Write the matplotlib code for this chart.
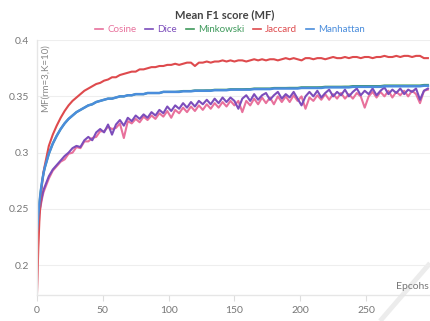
import matplotlib
matplotlib.use("Agg")
import matplotlib.pyplot as plt
from matplotlib.lines import Line2D

epochs = [0, 1, 2, 3, 4, 5] + list(range(6, 300, 3))

cosine = [
    0.176, 0.232, 0.246, 0.254, 0.260, 0.265,
    0.268, 0.277, 0.284, 0.288, 0.292, 0.294, 0.299, 0.300, 0.305, 0.304,
    0.310, 0.310, 0.313, 0.314, 0.319, 0.319, 0.323, 0.321,
    0.322, 0.326, 0.313, 0.328, 0.326, 0.330, 0.327, 0.332, 0.329, 0.333,
    0.330, 0.335, 0.332, 0.337, 0.331, 0.338, 0.335, 0.340, 0.336, 0.341,
    0.337, 0.342, 0.338, 0.343, 0.339, 0.344, 0.340, 0.345, 0.341, 0.346,
    0.342, 0.346, 0.336, 0.346, 0.342, 0.348, 0.343, 0.349, 0.344, 0.349,
    0.343, 0.350, 0.345, 0.350, 0.345, 0.351, 0.346, 0.350, 0.339, 0.349,
    0.346, 0.351, 0.347, 0.352, 0.347, 0.352, 0.348, 0.353, 0.348, 0.352,
    0.348, 0.353, 0.350, 0.340, 0.350, 0.354, 0.349, 0.354, 0.350, 0.355,
    0.349, 0.354, 0.351, 0.355, 0.350, 0.355, 0.352, 0.344, 0.355, 0.356,
]

dice = [
    0.230, 0.240, 0.249, 0.256, 0.262, 0.267,
    0.270, 0.279, 0.285, 0.289, 0.293, 0.297, 0.300, 0.304, 0.306, 0.305,
    0.311, 0.314, 0.311, 0.318, 0.321, 0.318, 0.325, 0.316,
    0.325, 0.329, 0.324, 0.331, 0.328, 0.333, 0.330, 0.334, 0.331, 0.336,
    0.333, 0.338, 0.335, 0.341, 0.337, 0.342, 0.339, 0.344, 0.340, 0.345,
    0.341, 0.346, 0.343, 0.347, 0.343, 0.348, 0.344, 0.349, 0.345, 0.349,
    0.346, 0.339, 0.348, 0.351, 0.346, 0.352, 0.347, 0.351, 0.353, 0.347,
    0.351, 0.354, 0.348, 0.352, 0.349, 0.354, 0.348, 0.342, 0.350, 0.354,
    0.350, 0.355, 0.349, 0.353, 0.356, 0.350, 0.354, 0.351, 0.356, 0.350,
    0.354, 0.357, 0.351, 0.355, 0.352, 0.357, 0.351, 0.355, 0.358, 0.352,
    0.356, 0.353, 0.357, 0.352, 0.356, 0.354, 0.357, 0.347, 0.355, 0.357,
]

minkowski = [
    0.231, 0.245, 0.257, 0.267, 0.275, 0.282,
    0.287, 0.299, 0.308, 0.315, 0.321, 0.326, 0.330, 0.333, 0.336, 0.338,
    0.340, 0.342, 0.343, 0.345, 0.346, 0.347, 0.348, 0.348, 0.349, 0.350,
    0.350, 0.351, 0.351, 0.352, 0.352, 0.352, 0.353, 0.353, 0.353, 0.353,
    0.354, 0.354, 0.354, 0.354, 0.3543, 0.3548, 0.3548, 0.3548, 0.3553, 0.3553,
    0.3553, 0.3554, 0.3554, 0.3559, 0.3559, 0.3559, 0.3559, 0.3564, 0.3564, 0.3564,
    0.3564, 0.3565, 0.3565, 0.3570, 0.3570, 0.3570, 0.3570, 0.3570, 0.3575, 0.3575,
    0.3575, 0.3575, 0.3576, 0.3576, 0.3576, 0.3581, 0.3581, 0.3581, 0.3581, 0.3581,
    0.3582, 0.3586, 0.3586, 0.3586, 0.3586, 0.3586, 0.3587, 0.3587, 0.3592, 0.3592,
    0.3592, 0.3592, 0.3592, 0.3592, 0.3592, 0.3592, 0.3597, 0.3597, 0.3597, 0.3597,
    0.3597, 0.3597, 0.3597, 0.3597, 0.3597, 0.3597, 0.3602, 0.3602,
]

jaccard = [
    0.175, 0.215, 0.245, 0.262, 0.274, 0.283,
    0.289, 0.306, 0.316, 0.324, 0.331, 0.337, 0.342, 0.346, 0.349, 0.352,
    0.355, 0.357, 0.359, 0.361, 0.362, 0.364, 0.365, 0.367, 0.367, 0.369,
    0.370, 0.371, 0.372, 0.372, 0.374, 0.374, 0.375, 0.376, 0.376, 0.377,
    0.377, 0.378, 0.378, 0.379, 0.378, 0.379, 0.380, 0.380, 0.377, 0.380,
    0.380, 0.381, 0.380, 0.381, 0.381, 0.382, 0.381, 0.382, 0.381, 0.382,
    0.382, 0.381, 0.382, 0.383, 0.382, 0.383, 0.382, 0.383, 0.383, 0.382,
    0.383, 0.384, 0.383, 0.384, 0.383, 0.382, 0.384, 0.384, 0.383, 0.384,
    0.384, 0.383, 0.384, 0.385, 0.384, 0.384, 0.385, 0.384, 0.385, 0.385,
    0.384, 0.385, 0.385, 0.384, 0.385, 0.385, 0.386, 0.385, 0.385, 0.386,
    0.385, 0.386, 0.386, 0.385, 0.386, 0.386, 0.384, 0.384,
]

manhattan = [
    0.231, 0.245, 0.257, 0.267, 0.275, 0.282,
    0.287, 0.299, 0.308, 0.315, 0.321, 0.326, 0.330, 0.333, 0.336, 0.338,
    0.340, 0.342, 0.343, 0.345, 0.346, 0.347, 0.348, 0.348, 0.349, 0.350,
    0.350, 0.351, 0.351, 0.352, 0.352, 0.352, 0.353, 0.353, 0.353, 0.353,
    0.354, 0.354, 0.354, 0.354, 0.354, 0.3545, 0.3545, 0.3545, 0.355, 0.355,
    0.355, 0.355, 0.355, 0.3555, 0.3555, 0.3555, 0.3555, 0.356, 0.356, 0.356,
    0.356, 0.356, 0.356, 0.3565, 0.3565, 0.3565, 0.3565, 0.3565, 0.357, 0.357,
    0.357, 0.357, 0.357, 0.357, 0.357, 0.3575, 0.3575, 0.3575, 0.3575, 0.3575,
    0.3575, 0.358, 0.358, 0.358, 0.358, 0.358, 0.358, 0.358, 0.3585, 0.3585,
    0.3585, 0.3585, 0.3585, 0.3585, 0.3585, 0.3585, 0.359, 0.359, 0.359, 0.359,
    0.359, 0.359, 0.359, 0.359, 0.359, 0.359, 0.3595, 0.3595,
]

series = ["Cosine", "Dice", "Minkowski", "Jaccard", "Manhattan"]
values = [cosine, dice, minkowski, jaccard, manhattan]
colors = ["#e8719c", "#7c4dbb", "#3f9a5c", "#de4a4d", "#4a8ddc"]
widths = [1.5, 1.5, 1.5, 1.5, 1.8]

plt.rcParams["font.family"] = ["Lato", "DejaVu Sans"]

fig = plt.figure(figsize=(4.3, 3.21), dpi=100)

# faint diagonal stripe in the bottom right corner, behind the plot
fig.add_artist(Line2D([1.0, 0.884], [0.18, 0.0], transform=fig.transFigure,
                      color="#ececec", lw=3.5, solid_capstyle="butt", zorder=-5))

ax = fig.add_axes([0.086, 0.081, 0.914, 0.794])
ax.patch.set_alpha(0)

for name, vals, c, w in zip(series, values, colors, widths):
    ax.plot(epochs, vals, color=c, lw=w, label=name, solid_joinstyle="round")

ax.set_xlim(0, 298.6)
ax.set_ylim(0.1735, 0.4)
ax.set_xticks([0, 50, 100, 150, 200, 250])
ax.set_yticks([0.2, 0.25, 0.3, 0.35, 0.4])
ax.set_yticklabels(["0.2", "0.25", "0.3", "0.35", "0.4"])
ax.grid(axis="y", color="#eeeeee", lw=0.8)
ax.set_axisbelow(True)
for s in ["top", "right"]:
    ax.spines[s].set_visible(False)
for s in ["left", "bottom"]:
    ax.spines[s].set_color("#e6e6e6")
    ax.spines[s].set_linewidth(1.0)
ax.tick_params(axis="both", colors="#dddddd", labelcolor="#777777", labelsize=7.5)
ax.tick_params(axis="y", length=0, pad=6)
ax.tick_params(axis="x", length=4, pad=4)

ax.text(0.02, 0.985, "MF(rm=3,K=10)", transform=ax.transAxes, rotation=90,
        ha="center", va="top", fontsize=7, color="#888888")
ax.text(0.998, 0.015, "Epcohs", transform=ax.transAxes, ha="right", va="bottom",
        fontsize=7.5, color="#777777")

fig.text(0.523, 0.955, "Mean F1 score (MF)", ha="center", va="center",
         fontsize=8, fontweight="bold", color="#444444")

handles = [Line2D([], [], color=c, lw=1.2) for c in colors]
leg = fig.legend(handles, series, loc="center", bbox_to_anchor=(0.535, 0.908),
                 ncol=5, frameon=False, fontsize=7, handlelength=0.8,
                 handletextpad=0.45, columnspacing=0.9)
for t, c in zip(leg.get_texts(), colors):
    t.set_color(c)

fig.savefig("out.png", dpi=100)
